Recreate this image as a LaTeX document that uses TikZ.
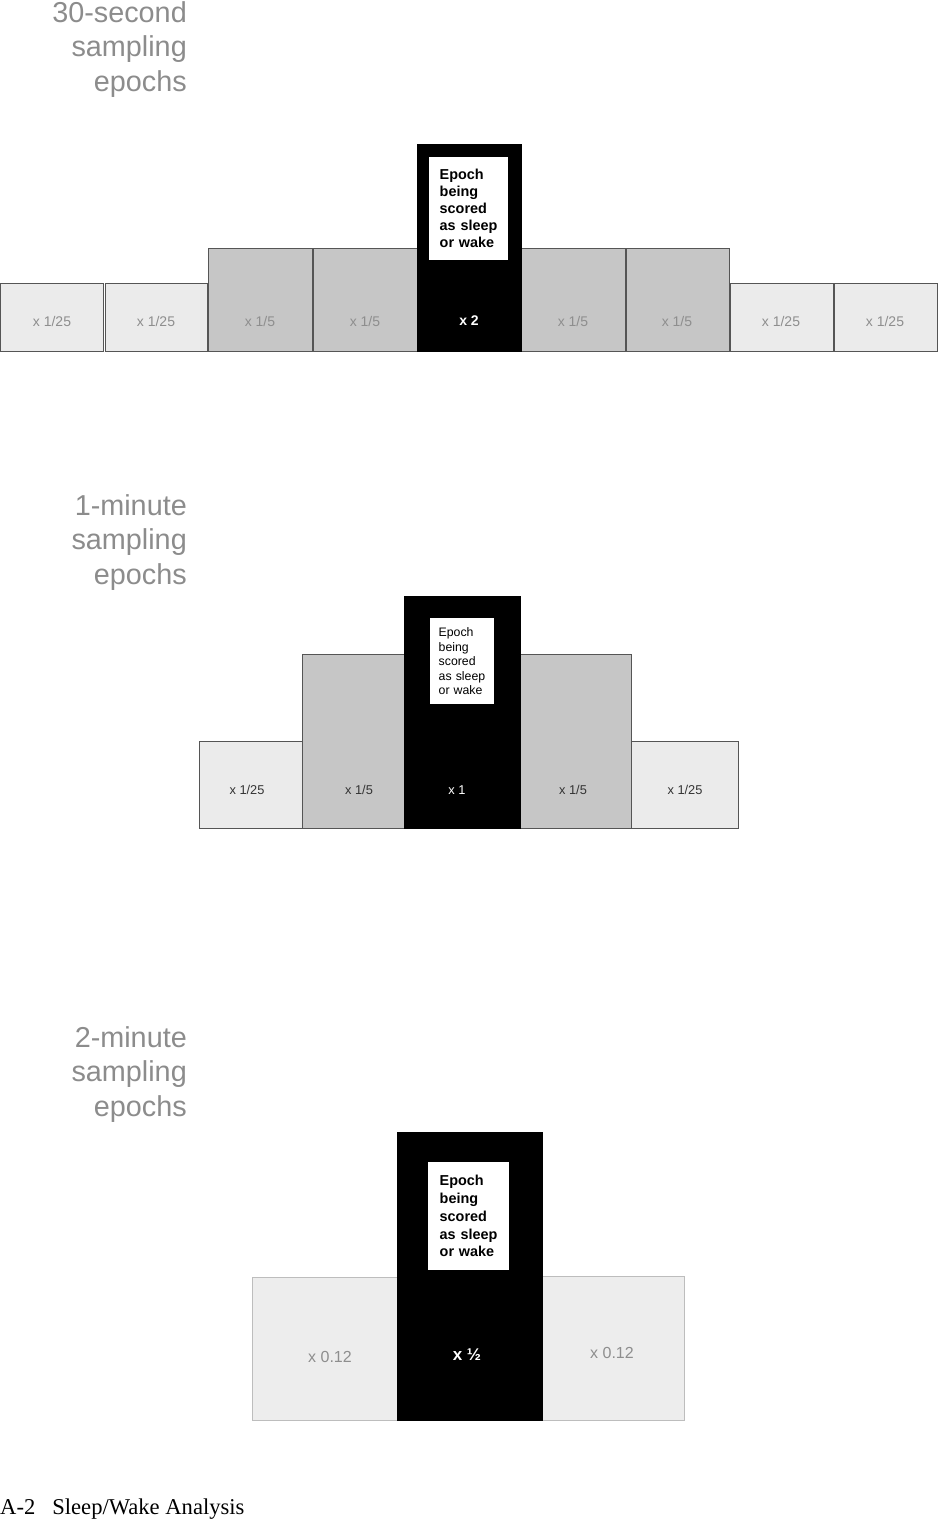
\documentclass[tikz,border=0pt]{standalone}
\usepackage{fontspec}
\setmainfont{Liberation Serif}
\setsansfont{Liberation Sans}
\definecolor{boxlight}{HTML}{EBEBEB}
\definecolor{boxlight2}{HTML}{EDEDED}
\definecolor{boxgray}{HTML}{C6C6C6}
\definecolor{edge}{HTML}{555555}
\definecolor{edgelight}{HTML}{BDBDBD}
\definecolor{sidegray}{HTML}{8C8C8C}
\definecolor{lblgray}{HTML}{8E8E8E}
\definecolor{lbldark}{HTML}{333333}
\tikzset{
  epochbox/.style={rectangle, anchor=north west, inner sep=0pt, line width=1.3pt},
  lightbox/.style={epochbox, fill=boxlight, draw=edge},
  graybox/.style={epochbox, fill=boxgray, draw=edge},
  softbox/.style={epochbox, fill=boxlight2, draw=edgelight},
  blackbox/.style={epochbox, fill=black, draw=black},
  notebig/.style={rectangle, anchor=north west, fill=white, align=left,
    text width=58pt, inner xsep=10.5pt, inner ysep=0pt,
    font=\sffamily\bfseries\fontsize{14.4}{17}\selectfont},
  notesmall/.style={rectangle, anchor=north west, fill=white, align=left,
    text width=47pt, inner xsep=8.5pt, inner ysep=0pt,
    font=\sffamily\fontsize{12.3}{14.5}\selectfont},
  wlbl/.style={inner sep=0pt, font=\sffamily\fontsize{14}{16}\selectfont, text=lblgray},
  mlbl/.style={inner sep=0pt, font=\sffamily\fontsize{12.8}{15}\selectfont, text=lbldark},
  blbl/.style={inner sep=0pt, font=\sffamily\fontsize{16}{18}\selectfont, text=lblgray},
  sidelbl/.style={anchor=north east, inner sep=0pt, align=right, text=sidegray,
    font=\sffamily\fontsize{28.8}{34.5}\selectfont},
}
\begin{document}
\begin{tikzpicture}[x=1pt,y=-1pt]
\useasboundingbox (0,0) rectangle (937,1520);

% ---------- side labels ----------
\node[sidelbl] (side1) at (187,1.4) {30-second\\sampling\\epochs};
\node[sidelbl] (side2) at (187,494.4) {1-minute\\sampling\\epochs};
\node[sidelbl] (side3) at (187,1026.4) {2-minute\\sampling\\epochs};

% ---------- 30-second row ----------
\node[lightbox, minimum width=103pt, minimum height=68pt] (t1) at (0,283) {};
\node[lightbox, minimum width=102pt, minimum height=68pt] (t2) at (105,283) {};
\node[graybox, minimum width=104pt, minimum height=103pt] (t3) at (208,248) {};
\node[graybox, minimum width=104pt, minimum height=103pt] (t4) at (313,248) {};
\node[graybox, minimum width=104pt, minimum height=103pt] (t6) at (521,248) {};
\node[graybox, minimum width=103pt, minimum height=103pt] (t7) at (626,248) {};
\node[lightbox, minimum width=103pt, minimum height=68pt] (t8) at (730,283) {};
\node[lightbox, minimum width=103pt, minimum height=68pt] (t9) at (834,283) {};
\node[blackbox, minimum width=104pt, minimum height=207pt] (t5) at (417,144) {};
\node[notebig, minimum height=103pt] (tn) at (429,157) {Epoch\\being\\scored\\as sleep\\or wake};
\node[wlbl] (t1l) at (52,321) {x 1/25};
\node[wlbl] (t2l) at (156,321) {x 1/25};
\node[wlbl] (t3l) at (260,321) {x 1/5};
\node[wlbl] (t4l) at (365,321) {x 1/5};
\node[inner sep=0pt, font=\sffamily\bfseries\fontsize{14}{16}\selectfont, text=white] (t5l) at (469,321) {x 2};
\node[wlbl] (t6l) at (573,321) {x 1/5};
\node[wlbl] (t7l) at (677,321) {x 1/5};
\node[wlbl] (t8l) at (781,321) {x 1/25};
\node[wlbl] (t9l) at (885,321) {x 1/25};

% ---------- 1-minute row ----------
\node[lightbox, minimum width=103pt, minimum height=87pt] (m1) at (199,741) {};
\node[graybox, minimum width=102pt, minimum height=174pt] (m2) at (302,654) {};
\node[graybox, minimum width=111pt, minimum height=174pt] (m4) at (520,654) {};
\node[lightbox, minimum width=107pt, minimum height=87pt] (m5) at (631,741) {};
\node[blackbox, minimum width=116pt, minimum height=232pt] (m3) at (404,596) {};
\node[notesmall, minimum height=86pt] (mn) at (430,618) {Epoch\\being\\scored\\as sleep\\or wake};
\node[mlbl] (m1l) at (247,790) {x 1/25};
\node[mlbl] (m2l) at (359,790) {x 1/5};
\node[inner sep=0pt, font=\sffamily\fontsize{12.8}{15}\selectfont, text=white] (m3l) at (457,790) {x 1};
\node[mlbl] (m4l) at (573,790) {x 1/5};
\node[mlbl] (m5l) at (685,790) {x 1/25};

% ---------- 2-minute row ----------
\node[softbox, minimum width=145pt, minimum height=143pt] (b1) at (252,1277) {};
\node[softbox, minimum width=142pt, minimum height=144pt] (b3) at (542,1276) {};
\node[blackbox, minimum width=145pt, minimum height=288pt] (b2) at (397,1132) {};
\node[notebig, text width=58pt, inner xsep=11.5pt, minimum height=108pt,
  font=\sffamily\bfseries\fontsize{14.4}{17.7}\selectfont] (bn) at (428,1162) {Epoch\\being\\scored\\as sleep\\or wake};
\node[blbl] (b1l) at (330,1357) {x 0.12};
\node[inner sep=0pt, font=\sffamily\bfseries\fontsize{17}{19}\selectfont, text=white] (b2l) at (467,1355) {x ½};
\node[blbl] (b3l) at (612,1353) {x 0.12};

% ---------- footer ----------
\node[anchor=base west, inner sep=0pt, font=\fontsize{22.6}{26}\selectfont] (foot) at (0,1514) {A-2\hspace{17pt}Sleep/Wake Analysis};
\end{tikzpicture}
\end{document}
